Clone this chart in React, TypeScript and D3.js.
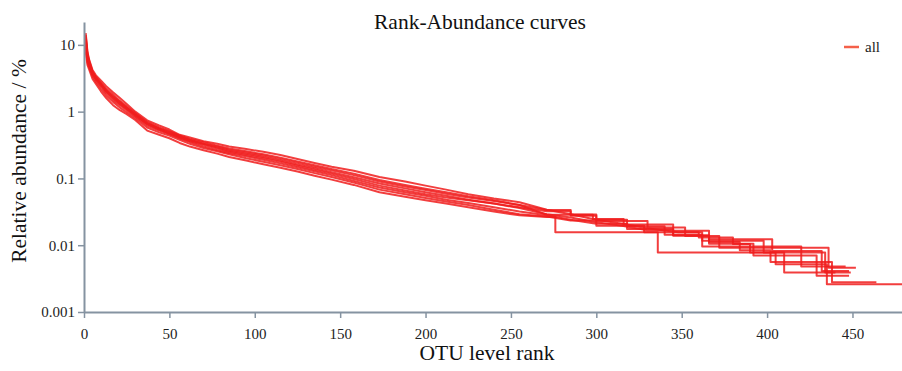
import { useEffect, useRef } from 'react';
import * as d3 from 'd3';

type Pt = [number, number];

// rank, relative abundance (%); repeated ranks are the drops of the tail steps
const sample1: Pt[] = [
	[1, 15], [2, 8], [3, 6], [5, 4.2], [7, 3.5], [10, 2.9], [13, 2.4], [17, 1.95], [21, 1.6], [25, 1.3],
	[30, 1.0], [37, 0.74], [44, 0.62], [50, 0.54], [56, 0.45], [62, 0.41], [70, 0.36], [78, 0.33], [85, 0.3],
	[95, 0.275], [105, 0.25], [115, 0.225], [125, 0.195], [135, 0.17], [145, 0.15], [158, 0.13], [173, 0.105],
	[188, 0.09], [200, 0.078], [212, 0.068], [225, 0.058], [240, 0.05], [255, 0.044], [271, 0.034], [285, 0.029],
	[300, 0.024], [315, 0.021], [330, 0.018], [348, 0.0156], [360, 0.0156], [360, 0.013], [380, 0.013],
	[380, 0.0104], [390, 0.0104], [390, 0.0078], [405, 0.0078], [405, 0.0052], [435, 0.0052], [435, 0.0026],
	[479, 0.0026],
];
const sample2: Pt[] = [
	[1, 12], [2, 7], [3, 5.5], [5, 3.9], [7, 3.2], [10, 2.6], [13, 2.1], [17, 1.7], [21, 1.4], [25, 1.15],
	[30, 0.92], [37, 0.68], [44, 0.56], [50, 0.5], [56, 0.43], [62, 0.38], [70, 0.33], [78, 0.29], [85, 0.26],
	[95, 0.235], [105, 0.21], [115, 0.185], [125, 0.162], [135, 0.142], [145, 0.124], [158, 0.104], [173, 0.084],
	[188, 0.071], [200, 0.062], [212, 0.055], [225, 0.048], [240, 0.042], [255, 0.036], [271, 0.029], [285, 0.026],
	[300, 0.022], [315, 0.0196], [330, 0.0168], [345, 0.0168], [345, 0.014], [366, 0.014], [366, 0.0112],
	[384, 0.0112], [384, 0.0084], [402, 0.0084], [402, 0.0056], [438, 0.0056], [438, 0.0028], [464, 0.0028],
];
const sample3: Pt[] = [
	[1, 10], [2, 6], [3, 5], [5, 3.6], [7, 3.0], [10, 2.4], [13, 1.9], [17, 1.5], [21, 1.25], [25, 1.05],
	[30, 0.85], [37, 0.62], [44, 0.52], [50, 0.46], [56, 0.4], [62, 0.35], [70, 0.3], [78, 0.265], [85, 0.24],
	[95, 0.215], [105, 0.19], [115, 0.168], [125, 0.147], [135, 0.128], [145, 0.112], [158, 0.092], [173, 0.073],
	[188, 0.062], [200, 0.055], [212, 0.048], [225, 0.043], [240, 0.037], [255, 0.032], [271, 0.028], [285, 0.024],
	[300, 0.021], [318, 0.021], [318, 0.0175], [345, 0.0175], [345, 0.014], [366, 0.014], [366, 0.0105],
	[392, 0.0105], [392, 0.007], [429, 0.007], [429, 0.0035], [448, 0.0035],
];
const sample4: Pt[] = [
	[1, 9], [2, 5.5], [3, 4.6], [5, 3.4], [7, 2.8], [10, 2.2], [13, 1.75], [17, 1.4], [21, 1.15], [25, 0.98],
	[30, 0.8], [37, 0.58], [44, 0.49], [50, 0.44], [56, 0.38], [62, 0.33], [70, 0.285], [78, 0.255], [85, 0.23],
	[95, 0.2], [105, 0.178], [115, 0.158], [125, 0.138], [135, 0.12], [145, 0.105], [158, 0.087], [173, 0.068],
	[188, 0.058], [200, 0.051], [212, 0.045], [225, 0.04], [240, 0.034], [255, 0.029], [271, 0.027], [285, 0.0234],
	[300, 0.0234], [300, 0.0195], [328, 0.0195], [328, 0.0156], [362, 0.0156], [362, 0.0117], [398, 0.0117],
	[398, 0.0078], [434, 0.0078], [434, 0.0039], [449, 0.0039],
];
const sample5: Pt[] = [
	[1, 14], [2, 7.5], [3, 5.8], [5, 4.0], [7, 3.3], [10, 2.7], [13, 2.2], [17, 1.8], [21, 1.45], [25, 1.2],
	[30, 0.95], [37, 0.7], [44, 0.58], [50, 0.51], [56, 0.44], [62, 0.39], [70, 0.35], [78, 0.31], [85, 0.28],
	[95, 0.255], [105, 0.23], [115, 0.205], [125, 0.18], [135, 0.158], [145, 0.138], [158, 0.118], [173, 0.095],
	[188, 0.08], [200, 0.07], [212, 0.062], [225, 0.054], [240, 0.047], [255, 0.04], [271, 0.0287], [298, 0.0287],
	[298, 0.0246], [316, 0.0246], [316, 0.0205], [345, 0.0205], [345, 0.0164], [366, 0.0164], [366, 0.0123],
	[403, 0.0123], [403, 0.0082], [432, 0.0082], [432, 0.0041], [448, 0.0041],
];
const sample6: Pt[] = [
	[1, 11], [2, 6.5], [3, 5.2], [5, 3.7], [7, 3.1], [10, 2.5], [13, 2.0], [17, 1.6], [21, 1.3], [25, 1.1],
	[30, 0.88], [37, 0.65], [44, 0.54], [50, 0.48], [56, 0.41], [62, 0.36], [70, 0.32], [78, 0.28], [85, 0.25],
	[95, 0.225], [105, 0.2], [115, 0.178], [125, 0.155], [135, 0.135], [145, 0.118], [158, 0.098], [173, 0.078],
	[188, 0.066], [200, 0.058], [212, 0.052], [225, 0.047], [240, 0.042], [255, 0.037], [271, 0.0322],
	[285, 0.0322], [285, 0.0276], [300, 0.0276], [300, 0.023], [330, 0.023], [330, 0.0184], [352, 0.0184],
	[352, 0.0138], [372, 0.0138], [372, 0.0092], [436, 0.0092], [436, 0.0046], [452, 0.0046],
];
const sample7: Pt[] = [
	[1, 8], [2, 5], [3, 4.3], [5, 3.1], [7, 2.6], [10, 2.0], [13, 1.6], [17, 1.25], [21, 1.05], [25, 0.92],
	[30, 0.75], [37, 0.52], [44, 0.45], [50, 0.4], [56, 0.34], [62, 0.3], [70, 0.265], [78, 0.235], [85, 0.21],
	[95, 0.185], [105, 0.163], [115, 0.145], [125, 0.127], [135, 0.11], [145, 0.096], [158, 0.08], [173, 0.062],
	[188, 0.053], [200, 0.047], [212, 0.042], [225, 0.037], [240, 0.032], [255, 0.028], [271, 0.0265], [276, 0.0265],
	[276, 0.0156], [336, 0.0156], [336, 0.0078], [410, 0.0078], [410, 0.0039], [440, 0.0039],
];
const sample8: Pt[] = [
	[1, 13], [2, 7], [3, 5.4], [5, 3.8], [7, 3.2], [10, 2.55], [13, 2.05], [17, 1.65], [21, 1.35], [25, 1.12],
	[30, 0.9], [37, 0.66], [44, 0.55], [50, 0.47], [56, 0.42], [62, 0.37], [70, 0.33], [78, 0.3], [85, 0.27],
	[95, 0.245], [105, 0.22], [115, 0.195], [125, 0.172], [135, 0.15], [145, 0.132], [158, 0.112], [173, 0.09],
	[188, 0.076], [200, 0.067], [212, 0.059], [225, 0.052], [240, 0.046], [255, 0.04], [271, 0.0336],
	[285, 0.0336], [285, 0.0288], [300, 0.0288], [300, 0.024], [318, 0.024], [318, 0.0192], [340, 0.0192],
	[340, 0.0144], [362, 0.0144], [362, 0.0096], [420, 0.0096], [420, 0.0048], [446, 0.0048],
];
const samples = [sample1, sample2, sample3, sample4, sample5, sample6, sample7, sample8];

const yTicks = [0.001, 0.01, 0.1, 1, 10];
const yTickLabels = ['0.001', '0.01', '0.1', '1', '10'];
const xTicks = [0, 50, 100, 150, 200, 250, 300, 350, 400, 450];
const legendLabel = 'all';

export default function App() {
	const svgRef = useRef<SVGSVGElement | null>(null);
	const width = 902;
	const height = 371;

	useEffect(() => {
		if (!svgRef.current) return;
		const margin = { top: 22, right: 0, bottom: 59, left: 84 };
		const font = 'Liberation Serif';
		const axisColor = '#8593a1';

		const svg = d3.select(svgRef.current);
		svg.selectAll('*').remove();

		const x = d3.scaleLinear().domain([0, 479]).range([margin.left, width - margin.right]);
		const y = d3.scaleLog().domain([0.001, 22]).range([height - margin.bottom, margin.top]);

		// curves
		const line = d3
			.line<Pt>()
			.x((d) => x(d[0]))
			.y((d) => y(d[1]));

		svg
			.append('g')
			.selectAll('path')
			.data(samples)
			.join('path')
			.attr('d', (d) => line(d))
			.attr('fill', 'none')
			.attr('stroke', '#f01c1c')
			.attr('stroke-width', 2)
			.attr('stroke-opacity', 0.85)
			.attr('stroke-linejoin', 'round');

		// X axis
		const gx = svg
			.append('g')
			.attr('transform', `translate(0,${height - margin.bottom})`)
			.call(d3.axisBottom(x).tickValues(xTicks).tickFormat(d3.format('d')).tickSize(6).tickSizeOuter(0).tickPadding(10));

		// Y axis
		const gy = svg
			.append('g')
			.attr('transform', `translate(${margin.left},0)`)
			.call(
				d3
					.axisLeft(y)
					.tickValues(yTicks)
					.tickFormat((_, i) => yTickLabels[i])
					.tickSize(6)
					.tickSizeOuter(0)
					.tickPadding(3)
			);

		[gx, gy].forEach((g) => {
			g.attr('font-family', null).attr('font-size', null);
			g.select('.domain').attr('stroke', axisColor).attr('stroke-width', 2);
			g.selectAll('.tick line').attr('stroke', axisColor).attr('stroke-width', 1.5);
			g.selectAll('.tick text').attr('fill', '#222').style('font-family', font).style('font-size', '15px');
		});

		// titles
		svg
			.append('text')
			.attr('x', 480)
			.attr('y', 29)
			.attr('text-anchor', 'middle')
			.style('font-family', font)
			.style('font-size', '21.5px')
			.attr('fill', '#111')
			.text('Rank-Abundance curves');

		svg
			.append('text')
			.attr('x', 487)
			.attr('y', 360)
			.attr('text-anchor', 'middle')
			.style('font-family', font)
			.style('font-size', '21.5px')
			.attr('fill', '#111')
			.text('OTU level rank');

		svg
			.append('text')
			.attr('transform', `translate(26,161) rotate(-90)`)
			.attr('text-anchor', 'middle')
			.style('font-family', font)
			.style('font-size', '21.5px')
			.attr('fill', '#111')
			.text('Relative abundance / %');

		// legend
		const lg = svg.append('g').attr('transform', 'translate(844,47)');
		lg.append('line').attr('x1', 0).attr('x2', 15).attr('y1', 0).attr('y2', 0).attr('stroke', '#f4604a').attr('stroke-width', 2.5);
		lg.append('text')
			.attr('x', 21)
			.attr('y', 5)
			.style('font-family', font)
			.style('font-size', '15px')
			.attr('fill', '#222')
			.text(legendLabel);
	}, []);

	return (
		<svg
			ref={svgRef}
			width={width}
			height={height}
			style={{ position: 'absolute', left: 0, top: 0, background: '#fff' }}
		/>
	);
}
